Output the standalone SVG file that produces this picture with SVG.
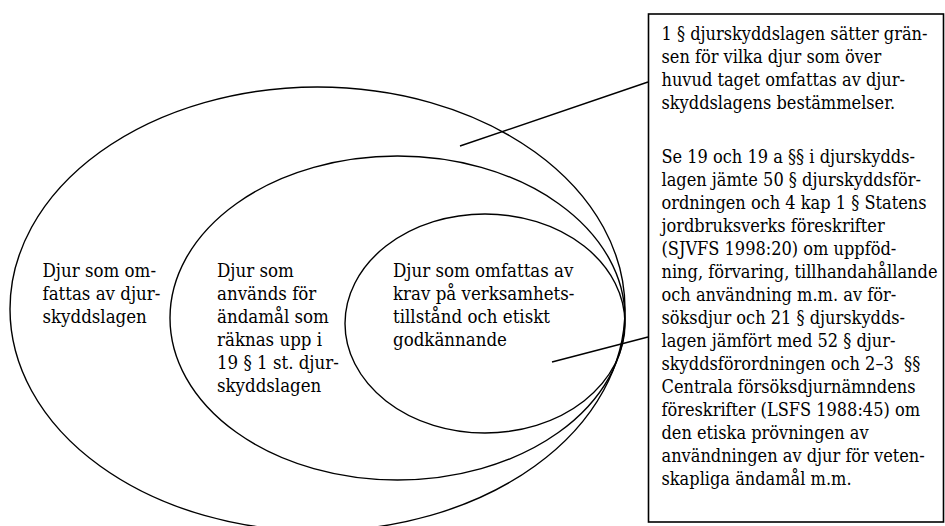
<svg xmlns="http://www.w3.org/2000/svg" width="945" height="526" viewBox="0 0 945 526">
<style>
.sh{fill:none;stroke:#000;stroke-width:1.4}
.bx{fill:#fff;stroke:#000;stroke-width:1.6}
.cn{stroke:#000;stroke-width:1.4;fill:none}
.t{font-family:'DejaVu Serif Condensed','DejaVu Serif',serif;font-stretch:condensed;font-size:18.5px;fill:#000;white-space:pre}
.n{font-size:18px}
</style>
<rect width="945" height="526" fill="#fff"/>
<g id="outer">
<ellipse class="sh" cx="317.5" cy="309" rx="307.5" ry="222"/>
<text class="t"><tspan x="42.5" y="277">Djur som om-</tspan><tspan x="42.5" y="300">fattas av djur-</tspan><tspan x="42.5" y="323">skyddslagen</tspan></text>
</g>
<g id="middle">
<ellipse class="sh" cx="397.5" cy="318" rx="227.5" ry="162"/>
<text class="t"><tspan x="217" y="277">Djur som</tspan><tspan x="217" y="300">används för</tspan><tspan x="217" y="323">ändamål som</tspan><tspan x="217" y="346">räknas upp i</tspan><tspan x="217" y="369">19 § 1 st. djur-</tspan><tspan x="217" y="392">skyddslagen</tspan></text>
</g>
<g id="inner">
<ellipse class="sh" cx="485" cy="323.5" rx="140" ry="109.5"/>
<text class="t"><tspan x="393" y="277">Djur som omfattas av</tspan><tspan x="393" y="300">krav på verksamhets-</tspan><tspan x="393" y="323">tillstånd och etiskt</tspan><tspan x="393" y="346">godkännande</tspan></text>
</g>
<g id="connectors">
<line class="cn" x1="460" y1="146" x2="648" y2="82"/>
<line class="cn" x1="552" y1="362" x2="648" y2="337"/>
</g>
<g id="note">
<rect class="bx" x="648.5" y="14" width="295" height="508"/>
<text class="t n"><tspan x="661.5" y="40">1 § djurskyddslagen sätter grän-</tspan><tspan x="661.5" y="63">sen för vilka djur som över</tspan><tspan x="661.5" y="86">huvud taget omfattas av djur-</tspan><tspan x="661.5" y="109">skyddslagens bestämmelser.</tspan><tspan x="661.5" y="163">Se 19 och 19 a §§ i djurskydds-</tspan><tspan x="661.5" y="186">lagen jämte 50 § djurskyddsför-</tspan><tspan x="661.5" y="209">ordningen och 4 kap 1 § Statens</tspan><tspan x="661.5" y="232">jordbruksverks föreskrifter</tspan><tspan x="661.5" y="255">(SJVFS 1998:20) om uppföd-</tspan><tspan x="661.5" y="278">ning, förvaring, tillhandahållande</tspan><tspan x="661.5" y="301">och användning m.m. av för-</tspan><tspan x="661.5" y="324">söksdjur och 21 § djurskydds-</tspan><tspan x="661.5" y="347">lagen jämfört med 52 § djur-</tspan><tspan x="661.5" y="370">skyddsförordningen och 2–3  §§</tspan><tspan x="661.5" y="393">Centrala försöksdjurnämndens</tspan><tspan x="661.5" y="416">föreskrifter (LSFS 1988:45) om</tspan><tspan x="661.5" y="439">den etiska prövningen av</tspan><tspan x="661.5" y="462">användningen av djur för veten-</tspan><tspan x="661.5" y="485">skapliga ändamål m.m.</tspan></text>
</g>
</svg>
